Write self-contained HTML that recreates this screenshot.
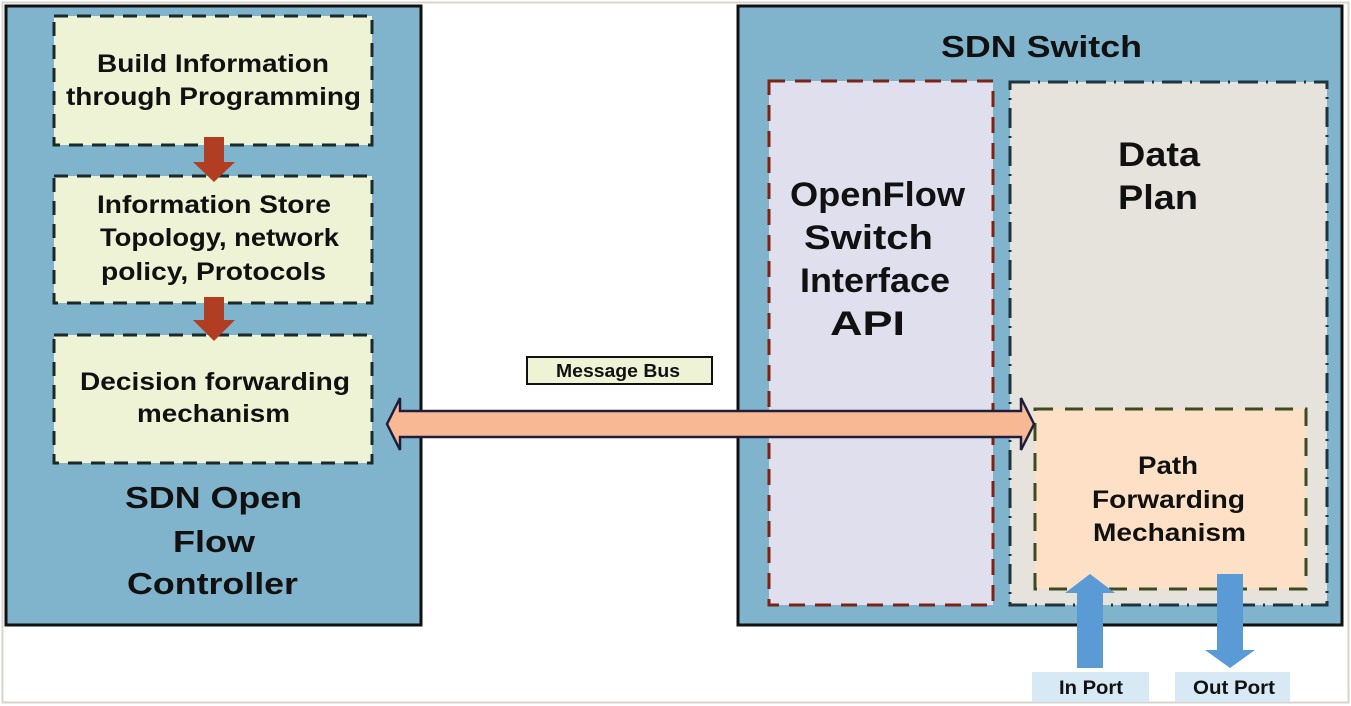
<!DOCTYPE html>
<html><head><meta charset="utf-8"><style>
html,body{margin:0;padding:0;background:#fff;}
svg{display:block;font-family:"Liberation Sans",Arial,sans-serif;font-weight:bold;}
</style></head><body>
<svg width="1351" height="706" viewBox="0 0 1351 706" xmlns="http://www.w3.org/2000/svg">
<rect x="2.5" y="2.5" width="1346" height="700" fill="#fff" stroke="#d8d4cc" stroke-width="2"/>
<rect x="6" y="6" width="415" height="619" fill="#80b4cc" stroke="#111" stroke-width="3"/>
<g stroke="#1a2a2a" stroke-width="3" stroke-dasharray="14,9" fill="#eef3d6">
<rect x="54" y="16" width="318" height="129"/>
<rect x="54" y="176" width="318" height="127"/>
<rect x="54" y="335" width="318" height="128"/>
</g>
<g fill="#b13e22">
<polygon points="204,137 224,137 224,162 235,162 214,182 193,162 204,162"/>
<polygon points="204,297 224,297 224,320 235,320 214,341 193,320 204,320"/>
</g>
<g font-size="25" fill="#111" lengthAdjust="spacingAndGlyphs">
<text x="97" y="72" textLength="232" lengthAdjust="spacingAndGlyphs">Build Information</text>
<text x="66" y="105" textLength="295" lengthAdjust="spacingAndGlyphs">through Programming</text>
<text x="97" y="213" textLength="234" lengthAdjust="spacingAndGlyphs">Information Store</text>
<text x="100" y="246" textLength="239" lengthAdjust="spacingAndGlyphs">Topology, network</text>
<text x="101" y="280" textLength="225" lengthAdjust="spacingAndGlyphs">policy, Protocols</text>
<text x="80" y="390" textLength="270" lengthAdjust="spacingAndGlyphs">Decision forwarding</text>
<text x="137" y="422" textLength="153" lengthAdjust="spacingAndGlyphs">mechanism</text>
</g>
<g font-size="31" fill="#111">
<text x="125" y="508" textLength="177" lengthAdjust="spacingAndGlyphs">SDN Open</text>
<text x="173" y="552" textLength="82" lengthAdjust="spacingAndGlyphs">Flow</text>
<text x="127" y="594" textLength="171" lengthAdjust="spacingAndGlyphs">Controller</text>
</g>
<rect x="738" y="6" width="604" height="619" fill="#80b4cc" stroke="#111" stroke-width="3"/>
<text x="941" y="57" font-size="31" fill="#111" textLength="201" lengthAdjust="spacingAndGlyphs">SDN Switch</text>
<rect x="769" y="81" width="224" height="524" fill="#dfdfee" stroke="#7a2418" stroke-width="3" stroke-dasharray="16,10"/>
<rect x="1010" y="82" width="317" height="523" fill="#e6e3dc" stroke="#1e3440" stroke-width="3" stroke-dasharray="20,8,2,8"/>
<g font-size="34" fill="#111">
<text x="790" y="206" textLength="175" lengthAdjust="spacingAndGlyphs">OpenFlow</text>
<text x="804" y="249" textLength="129" lengthAdjust="spacingAndGlyphs">Switch</text>
<text x="800" y="292" textLength="150" lengthAdjust="spacingAndGlyphs">Interface</text>
<text x="830" y="335" textLength="75" lengthAdjust="spacingAndGlyphs">API</text>
<text x="1118" y="166" textLength="82" lengthAdjust="spacingAndGlyphs">Data</text>
<text x="1118" y="209" textLength="80" lengthAdjust="spacingAndGlyphs">Plan</text>
</g>
<rect x="1035" y="409" width="271" height="180" fill="#fde0c6" stroke="#3d4a22" stroke-width="3" stroke-dasharray="18,12"/>
<g font-size="25" fill="#111">
<text x="1138" y="474" textLength="60" lengthAdjust="spacingAndGlyphs">Path</text>
<text x="1092" y="508" textLength="153" lengthAdjust="spacingAndGlyphs">Forwarding</text>
<text x="1093" y="541" textLength="153" lengthAdjust="spacingAndGlyphs">Mechanism</text>
</g>
<rect x="527" y="357" width="185" height="27" fill="#eef3d6" stroke="#111" stroke-width="2"/>
<text x="556" y="377" font-size="18" fill="#111" textLength="124" lengthAdjust="spacingAndGlyphs">Message Bus</text>
<polygon points="387,424 400,398 400,411 1021,411 1021,398 1034,424 1021,450 1021,437 400,437 400,450" fill="#f9b894" stroke="#1e1e3a" stroke-width="2.5"/>
<g fill="#5b9bd5">
<polygon points="1077,668 1077,593 1065,593 1090,574 1115,593 1103,593 1103,668"/>
<polygon points="1217,574 1243,574 1243,650 1255,650 1230,668 1205,650 1217,650"/>
</g>
<rect x="1032" y="672" width="117" height="30" fill="#d7e9f5"/>
<rect x="1175" y="672" width="115" height="30" fill="#d7e9f5"/>
<g font-size="19" fill="#111">
<text x="1059" y="694" textLength="64" lengthAdjust="spacingAndGlyphs">In Port</text>
<text x="1193" y="694" textLength="82" lengthAdjust="spacingAndGlyphs">Out Port</text>
</g>
</svg>
</body></html>
